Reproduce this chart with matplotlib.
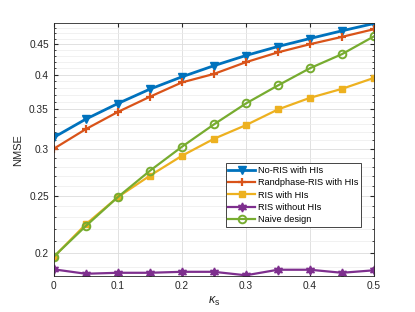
import numpy as np
import matplotlib.pyplot as plt
from matplotlib.ticker import FixedLocator, NullFormatter

kappa = [0, 0.05, 0.1, 0.15, 0.2, 0.25, 0.3, 0.35, 0.4, 0.45, 0.5]

no_ris = [0.3135, 0.3365, 0.3575, 0.378, 0.3965, 0.414, 0.4307, 0.446, 0.460, 0.474, 0.4876]
randphase = [0.300, 0.3237, 0.346, 0.367, 0.388, 0.401, 0.4197, 0.436, 0.450, 0.463, 0.477]
ris_hi = [0.1972, 0.2238, 0.2487, 0.2702, 0.2919, 0.3118, 0.3288, 0.3494, 0.3655, 0.3785, 0.3949]
ris_nohi = [0.188, 0.1848, 0.1855, 0.1855, 0.1862, 0.1862, 0.1837, 0.1877, 0.1877, 0.1855, 0.1873]
naive = [0.1974, 0.2223, 0.2487, 0.2754, 0.3023, 0.3297, 0.3576, 0.3835, 0.410, 0.433, 0.464]

labels = ['No-RIS with HIs', 'Randphase-RIS with HIs', 'RIS with HIs',
          'RIS without HIs', 'Naive design']

plt.rcParams['font.family'] = ['Liberation Sans', 'DejaVu Sans']
plt.rcParams['mathtext.fontset'] = 'custom'
plt.rcParams['mathtext.it'] = 'Liberation Sans:italic'
plt.rcParams['mathtext.rm'] = 'Liberation Sans'
fig = plt.figure(figsize=(4.15, 3.12), dpi=100)
ax = fig.add_axes([53.7/415, 1-276/312, (374-53.7)/415, (276-23.3)/312])

ax.plot(kappa, no_ris, color='#0072BD', lw=2, marker='v', ms=6, label=labels[0])
ax.plot(kappa, randphase, color='#D95319', lw=1.6, marker='+', ms=6, mew=1.6, label=labels[1])
ax.plot(kappa, ris_hi, color='#EDB120', lw=1.6, marker='s', ms=4.5, label=labels[2])
ax.plot(kappa, ris_nohi, color='#7E2F8E', lw=1.6, marker=(6, 1, 0), ms=6.5, label=labels[3])
ax.plot(kappa, naive, color='#77AC30', lw=1.6, marker='o', ms=5.5, mfc='none', mew=1.4, label=labels[4])

ax.set_yscale('log')
ax.set_xlim(0, 0.5)
ax.set_ylim(0.1832, 0.488)
ax.set_xticks([0, 0.1, 0.2, 0.3, 0.4, 0.5])
ax.set_xticklabels(['0', '0.1', '0.2', '0.3', '0.4', '0.5'])
ax.yaxis.set_major_locator(FixedLocator([0.2, 0.25, 0.3, 0.35, 0.4, 0.45]))
ax.set_yticklabels(['0.2', '0.25', '0.3', '0.35', '0.4', '0.45'])
ax.yaxis.set_minor_locator(FixedLocator(np.arange(0.19, 0.49, 0.01)))
ax.yaxis.set_minor_formatter(NullFormatter())

ax.grid(True, which='major', color='#dcdcdc', lw=0.6)
ax.grid(True, which='minor', color='#ececec', lw=0.5)
ax.set_axisbelow(True)
ax.tick_params(which='both', direction='in', top=True, right=True, labelsize=7.3,
               colors='#262626', length=3)
ax.tick_params(which='minor', length=1.5)
for s in ax.spines.values():
    s.set_color('#262626')
    s.set_linewidth(0.6)

ax.set_xlabel(r'$\kappa_{\rm s}$', fontsize=9, color='#262626', labelpad=3)
ax.set_ylabel('NMSE', fontsize=8, color='#262626')

leg = ax.legend(loc='lower right', bbox_to_anchor=(0.96, 0.195), fontsize=6.6,
                fancybox=False, edgecolor='#262626', framealpha=1,
                handlelength=2.9, borderpad=0.3, labelspacing=0.35, handletextpad=0.35,
                borderaxespad=0)
leg.get_frame().set_linewidth(0.6)

fig.savefig('out.png', dpi=100)
